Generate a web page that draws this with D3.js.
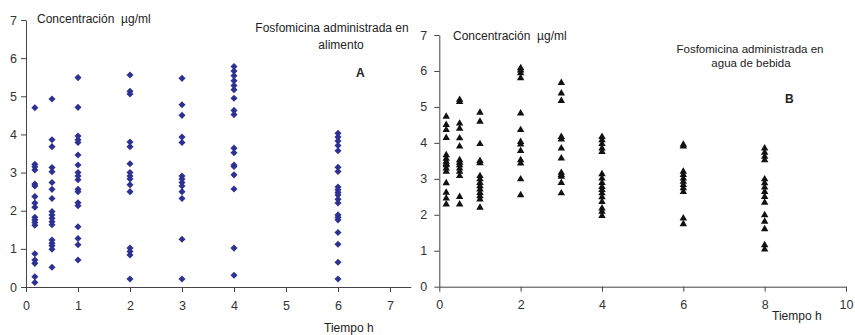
<!DOCTYPE html>
<html>
<head>
<meta charset="utf-8">
<script src="https://cdn.jsdelivr.net/npm/d3@7"></script>
<style>
  body { margin: 0; background: #fff; }
  svg { display: block; font-family: "Liberation Sans", Arial, sans-serif; }
  text { white-space: pre; }
  .axis path, .axis line { stroke: #444; }
  .axis text { fill: #333; font-size: 12.5px; }
</style>
</head>
<body>
<svg id="chart" width="855" height="335"></svg>
<script>
// Panel A: fosfomicina en alimento (tiempo h -> concentraciones)
const timesA = [0.17, 0.5, 1, 2, 3, 4, 6];
const a_017 = [4.7, 3.22, 3.15, 3.07, 2.7, 2.65, 2.37, 2.2, 2.09, 1.83, 1.76, 1.69, 1.62, 0.87, 0.71, 0.62, 0.27, 0.12];
const a_05  = [4.93, 3.86, 3.68, 3.13, 3.02, 2.74, 2.56, 2.32, 1.98, 1.89, 1.8, 1.71, 1.63, 1.23, 1.15, 1.08, 0.99, 0.52];
const a_1   = [5.49, 4.71, 3.96, 3.86, 3.79, 3.46, 3.2, 3.0, 2.91, 2.81, 2.56, 2.5, 2.21, 2.13, 1.58, 1.27, 1.11, 0.71];
const a_2   = [5.56, 5.13, 5.06, 3.8, 3.68, 3.23, 3.0, 2.91, 2.83, 2.68, 2.5, 1.02, 0.93, 0.84, 0.21];
const a_3   = [5.47, 4.78, 4.5, 3.93, 3.79, 2.91, 2.83, 2.74, 2.65, 2.5, 2.32, 1.25, 0.21];
const a_4   = [5.78, 5.66, 5.54, 5.41, 5.28, 5.17, 4.95, 4.63, 4.52, 3.64, 3.52, 3.2, 3.16, 2.94, 2.57, 1.02, 0.31];
const a_6   = [4.03, 3.93, 3.83, 3.71, 3.57, 3.14, 3.03, 2.62, 2.55, 2.48, 2.41, 2.3, 2.2, 1.89, 1.83, 1.76, 1.43, 1.12, 0.65, 0.21];
const concA = [a_017, a_05, a_1, a_2, a_3, a_4, a_6];

// Panel B: fosfomicina en agua de bebida
const timesB = [0.17, 0.5, 1, 2, 3, 4, 6, 8];
const b_017 = [4.73, 4.5, 4.36, 4.14, 3.66, 3.56, 3.48, 3.42, 3.38, 3.29, 3.2, 2.88, 2.62, 2.46, 2.29];
const b_05  = [5.2, 5.14, 4.54, 4.4, 4.13, 3.9, 3.52, 3.45, 3.38, 3.29, 3.2, 3.08, 2.5, 2.29];
const b_1   = [4.84, 4.59, 3.97, 3.5, 3.44, 3.08, 2.99, 2.89, 2.8, 2.71, 2.61, 2.52, 2.43, 2.2];
const b_2   = [6.08, 6.02, 5.94, 5.8, 4.82, 4.36, 4.03, 3.96, 3.78, 3.52, 3.43, 2.99, 2.55];
const b_3   = [5.67, 5.38, 5.17, 4.17, 4.1, 3.85, 3.57, 3.17, 3.11, 3.06, 2.89, 2.6];
const b_4   = [4.17, 4.08, 3.97, 3.85, 3.75, 3.13, 3.01, 2.89, 2.78, 2.69, 2.6, 2.49, 2.36, 2.18, 2.09, 1.97];
const b_6   = [3.95, 3.9, 3.2, 3.11, 3.01, 2.92, 2.83, 2.74, 2.64, 1.9, 1.74];
const b_8   = [3.85, 3.73, 3.62, 3.52, 2.99, 2.88, 2.76, 2.64, 2.5, 2.34, 1.99, 1.81, 1.6, 1.16, 1.04];
const concB = [b_017, b_05, b_1, b_2, b_3, b_4, b_6, b_8];

const ticksA = [0, 1, 2, 3, 4, 5, 6, 7];
const ticksB = [0, 2, 4, 6, 8, 10];
const ticksY = [0, 1, 2, 3, 4, 5, 6, 7];

const svg = d3.select('#chart');
const fmt = d3.format('d');

function flatten(times, conc) {
  const pts = [];
  times.forEach((t, i) => conc[i].forEach(v => pts.push({ t: t, v: v })));
  return pts;
}

function drawPanel(opts) {
  const g = svg.append('g');

  // axes
  g.append('g')
    .attr('class', 'axis')
    .attr('transform', `translate(0,${opts.y(0)})`)
    .call(d3.axisBottom(opts.x).tickValues(opts.xTicks).tickFormat(fmt)
      .tickSize(5).tickSizeOuter(0).tickPadding(opts.xPad));

  g.append('g')
    .attr('class', 'axis')
    .attr('transform', `translate(${opts.x(0)},0)`)
    .call(d3.axisLeft(opts.y).tickValues(ticksY).tickFormat(fmt)
      .tickSize(5).tickSizeOuter(0).tickPadding(opts.yPad));

  // points
  g.selectAll('path.pt')
    .data(flatten(opts.times, opts.conc))
    .join('path')
    .attr('class', 'pt')
    .attr('d', opts.symbol)
    .attr('fill', opts.color)
    .attr('transform', d => `translate(${opts.x(d.t)},${opts.y(d.v)})${opts.rotate ? ' rotate(45)' : ''}`);

  // labels
  opts.labels.forEach(l => {
    g.append('text')
      .attr('x', l.x).attr('y', l.y)
      .attr('text-anchor', l.anchor || 'start')
      .style('font-size', (l.size || 12) + 'px')
      .style('font-weight', l.bold ? 'bold' : 'normal')
      .style('fill', '#222')
      .text(l.text);
  });
}

// Panel A
drawPanel({
  x: d3.scaleLinear().domain([0, 7.4]).range([26, 410.8]),
  y: d3.scaleLinear().domain([0, 7]).range([287, 20]),
  xTicks: ticksA, xPad: 9, yPad: 4,
  times: timesA, conc: concA,
  symbol: d3.symbol().type(d3.symbolSquare).size(25)(),
  rotate: true,
  color: '#2e3192',
  labels: [
    { text: 'Concentración  µg/ml', x: 37, y: 23 },
    { text: 'Fosfomicina administrada en', x: 332, y: 31.5, anchor: 'middle' },
    { text: 'alimento', x: 341, y: 49, anchor: 'middle' },
    { text: 'A', x: 356, y: 77, bold: true },
    { text: 'Tiempo h', x: 324, y: 332 }
  ]
});

// Panel B
drawPanel({
  x: d3.scaleLinear().domain([0, 10]).range([439.3, 846]),
  y: d3.scaleLinear().domain([0, 7]).range([286.7, 35]),
  xTicks: ticksB, xPad: 8, yPad: 7,
  times: timesB, conc: concB,
  symbol: d3.symbol().type(d3.symbolTriangle).size(24)(),
  rotate: false,
  color: '#111',
  labels: [
    { text: 'Concentración  µg/ml', x: 453, y: 40 },
    { text: 'Fosfomicina administrada en', x: 750, y: 53, anchor: 'middle', size: 11.5 },
    { text: 'agua de bebida', x: 751, y: 66.5, anchor: 'middle', size: 11.5 },
    { text: 'B', x: 785, y: 103, bold: true },
    { text: 'Tiempo h', x: 772, y: 320 }
  ]
});
</script>
</body>
</html>
